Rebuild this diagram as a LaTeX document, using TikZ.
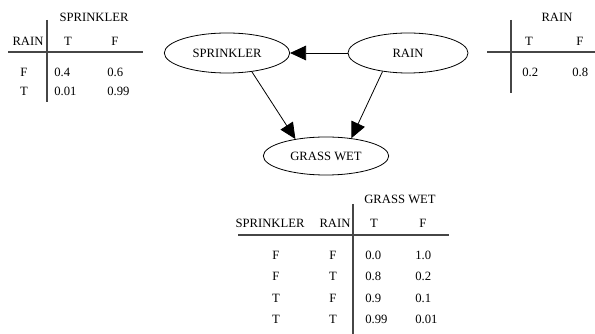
\documentclass[tikz,border=0pt]{standalone}
\usepackage{fontspec}
\setmainfont{Liberation Serif}
\usetikzlibrary{shapes.geometric,arrows.meta}

\tikzset{
  bnode/.style={draw, ellipse, inner sep=0pt, line width=0.6pt, font=\fontsize{9.5}{11}\selectfont},
  bedge/.style={line width=0.6pt, -{Triangle[length=12pt,width=11pt]}},
  cell/.style={inner sep=0pt, font=\fontsize{9.5}{11}\selectfont},
  val/.style={cell, anchor=west},
  tabrule/.style={line width=0.9pt, color={rgb,255:red,70;green,70;blue,70}}
}

\begin{document}
\begin{tikzpicture}[x=0.75pt,y=0.75pt,yscale=-1,xscale=1]
\useasboundingbox (0,0) rectangle (595,334);

%Shape: Ellipse [sprinkler]
\node (spr) at (227,53) [bnode, minimum width=94pt, minimum height=30pt] {SPRINKLER};
%Shape: Ellipse [rain]
\node (rain) at (408,53) [bnode, minimum width=90pt, minimum height=30pt] {RAIN};
%Shape: Ellipse [grass wet]
\node (gw) at (326,156) [bnode, minimum width=94pt, minimum height=28.5pt] {GRASS WET};

%Straight Lines
\draw [bedge] (rain.west) -- (spr.east);
\draw [bedge] (spr.-37) -- (gw.151);
\draw [bedge] (rain.216) -- (gw.35);

%Table: sprinkler
\draw [tabrule] (8,52) -- (143,52);
\draw [tabrule] (47,20) -- (47,102);
% Text Node
\node (sprh) at (94,17) [cell] {SPRINKLER};
\node (sprr) at (28,41) [cell] {RAIN};
\node (sprt) at (68,41) [cell] {T};
\node (sprf) at (115,41) [cell] {F};
\node (sprr1) at (24,72) [cell] {F};
\node (sprr2) at (24,91) [cell] {T};
\node (spra1) at (54,72) [val] {0.4};
\node (sprb1) at (107,72) [val] {0.6};
\node (spra2) at (54,91) [val] {0.01};
\node (sprb2) at (107,91) [val] {0.99};

%Table: rain
\draw [tabrule] (487,52) -- (595,52);
\draw [tabrule] (511,20) -- (511,93);
% Text Node
\node (rainh) at (557,17) [cell] {RAIN};
\node (raint) at (529,41) [cell] {T};
\node (rainf) at (580,41) [cell] {F};
\node (raina) at (522,72) [val] {0.2};
\node (rainb) at (572,72) [val] {0.8};

%Table: grass wet
\draw [tabrule] (238,235) -- (449,235);
\draw [tabrule] (353,204) -- (353,334);
% Text Node
\node (gwh) at (400,199) [cell] {GRASS WET};
\node (gws) at (270,223) [cell] {SPRINKLER};
\node (gwr) at (335,223) [cell] {RAIN};
\node (gwt) at (374,223) [cell] {T};
\node (gwf) at (423,223) [cell] {F};
\foreach \s/\r/\a/\b/\y in {F/F/0.0/1.0/255, F/T/0.8/0.2/276, T/F/0.9/0.1/298, T/T/0.99/0.01/319}{
  \node (gws\y) at (276,\y) [cell] {\s};
  \node (gwr\y) at (333,\y) [cell] {\r};
  \node (gwa\y) at (365,\y) [val] {\a};
  \node (gwb\y) at (415,\y) [val] {\b};
}

\end{tikzpicture}
\end{document}
